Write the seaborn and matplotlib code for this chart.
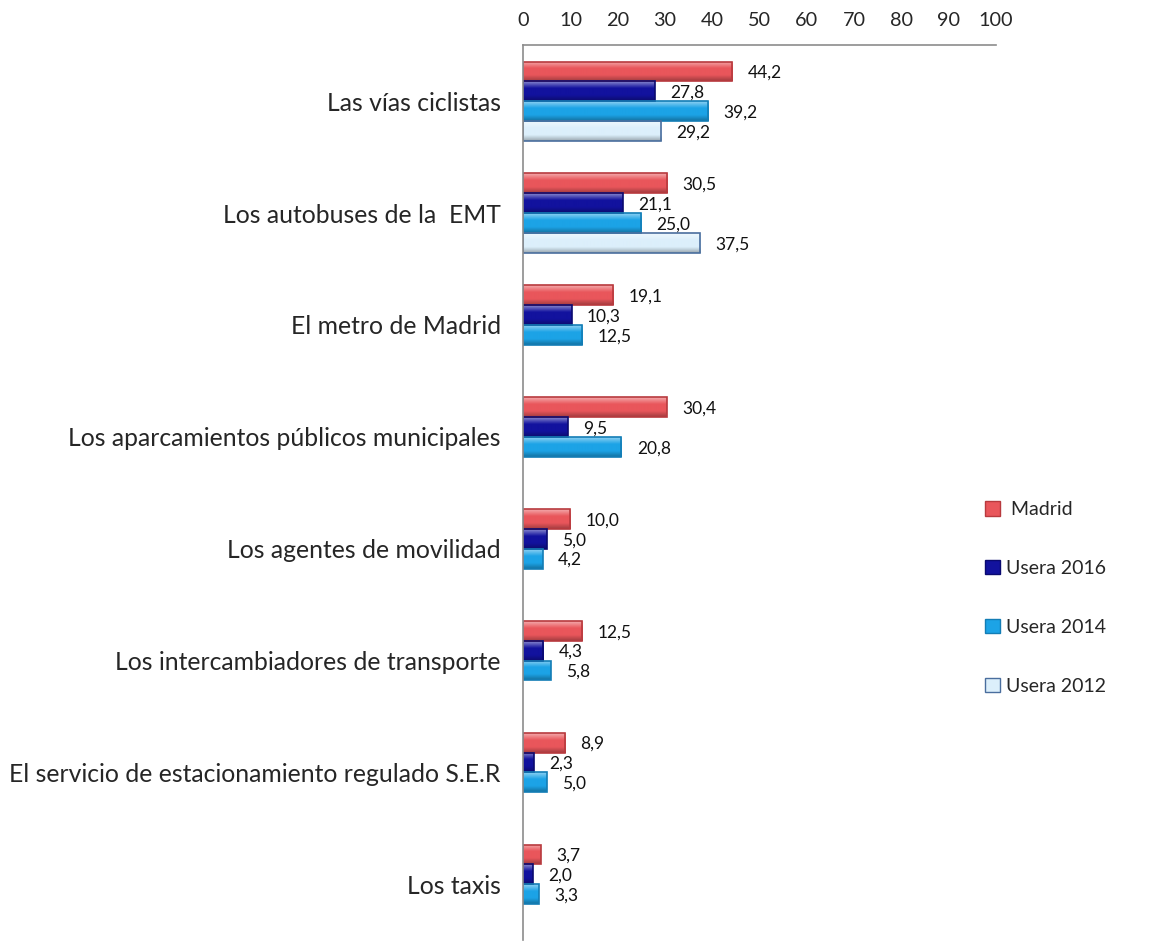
import numpy as np
import pandas as pd
import matplotlib
matplotlib.use("Agg")
import matplotlib.pyplot as plt
import matplotlib.colors as mcolors
import seaborn as sns

categories = [
    "Las vías ciclistas",
    "Los autobuses de la  EMT",
    "El metro de Madrid",
    "Los aparcamientos públicos municipales",
    "Los agentes de movilidad",
    "Los intercambiadores de transporte",
    "El servicio de estacionamiento regulado S.E.R",
    "Los taxis",
]
series = ["Madrid", "Usera 2016", "Usera 2014", "Usera 2012"]
madrid = [44.2, 30.5, 19.1, 30.4, 10.0, 12.5, 8.9, 3.7]
usera_2016 = [27.8, 21.1, 10.3, 9.5, 5.0, 4.3, 2.3, 2.0]
usera_2014 = [39.2, 25.0, 12.5, 20.8, 4.2, 5.8, 5.0, 3.3]
usera_2012 = [29.2, 37.5, np.nan, np.nan, np.nan, np.nan, np.nan, np.nan]
x_ticks = list(range(0, 101, 10))

colors = ["#E9565B", "#12129E", "#1CA3E6", "#DCEFFB"]
edges = ["#B83A3E", "#0A0A70", "#137DB5", "#4A6E9E"]

values = [madrid, usera_2016, usera_2014, usera_2012]
rows = []
for s, vals in zip(series, values):
    for c, v in zip(categories, vals):
        rows.append({"category": c, "series": s, "value": v})
df = pd.DataFrame(rows)

sns.set_theme(style="white")
plt.rcParams["font.family"] = ["Lato", "DejaVu Sans"]

fig = plt.figure(figsize=(11.65, 9.44), dpi=100)
ax = fig.add_axes([0.449, 0.004, 0.406, 0.948])

sns.barplot(data=df, y="category", x="value", hue="series", order=categories,
            hue_order=series, palette=colors, orient="h", width=0.71,
            saturation=1, ax=ax, legend=True)


def gradient_for(color, n=40):
    base = np.array(mcolors.to_rgb(color))
    white = np.ones(3)
    black = np.zeros(3)
    out = []
    for t in np.linspace(0, 1, n):
        if t < 0.35:
            f = 0.5 * (1 - t / 0.35)
            c = base * (1 - f) + white * f
        elif t > 0.7:
            f = 0.3 * (t - 0.7) / 0.3
            c = base * (1 - f) + black * f
        else:
            c = base
        out.append(c)
    return np.array(out).reshape(n, 1, 3)


xlim = (0, 100)
for cont, col, ec in zip(ax.containers, colors, edges):
    grad = gradient_for(col)
    for p in cont.patches:
        if p is None:
            continue
        w = p.get_width()
        if not np.isfinite(w):
            continue
        y0 = p.get_y()
        h = p.get_height()
        im = ax.imshow(grad, extent=(p.get_x(), p.get_x() + w, y0 + h, y0),
                       origin="upper", aspect="auto", interpolation="bilinear",
                       zorder=p.get_zorder() - 0.05)
        im.set_clip_path(p)
        p.set_facecolor("none")
        p.set_edgecolor(ec)
        p.set_linewidth(1.2)
        ax.annotate(f"{w:.1f}".replace(".", ","), xy=(w, y0 + h / 2),
                    xytext=(11, -1), textcoords="offset points",
                    ha="left", va="center", fontsize=12.5, color="#111111")

ax.set_aspect("auto")
ax.set_xlim(*xlim)
ax.set_ylim(len(categories) - 0.5, -0.5)
ax.set_xticks(x_ticks)
ax.xaxis.tick_top()
ax.tick_params(axis="x", length=0, pad=12, labelsize=14.3)
ax.tick_params(axis="y", length=0, pad=16, labelsize=17.8)
ax.set_xlabel("")
ax.set_ylabel("")
for s in ["right", "bottom"]:
    ax.spines[s].set_visible(False)
for s in ["top", "left"]:
    ax.spines[s].set_color("#8C8C8C")
    ax.spines[s].set_linewidth(1.2)
    ax.spines[s].set_zorder(5)

handles, lbls = ax.get_legend_handles_labels()
for h, ec in zip(handles, edges):
    h.set_edgecolor(ec)
ax.legend(handles, [" Madrid", "Usera 2016", "Usera 2014", "Usera 2012"],
          loc="upper left", bbox_to_anchor=(0.94, 0.51), frameon=False,
          handlelength=0.75, handleheight=0.75, handletextpad=0.3,
          labelspacing=2.15, fontsize=14)

fig.savefig("out.png", dpi=100)
